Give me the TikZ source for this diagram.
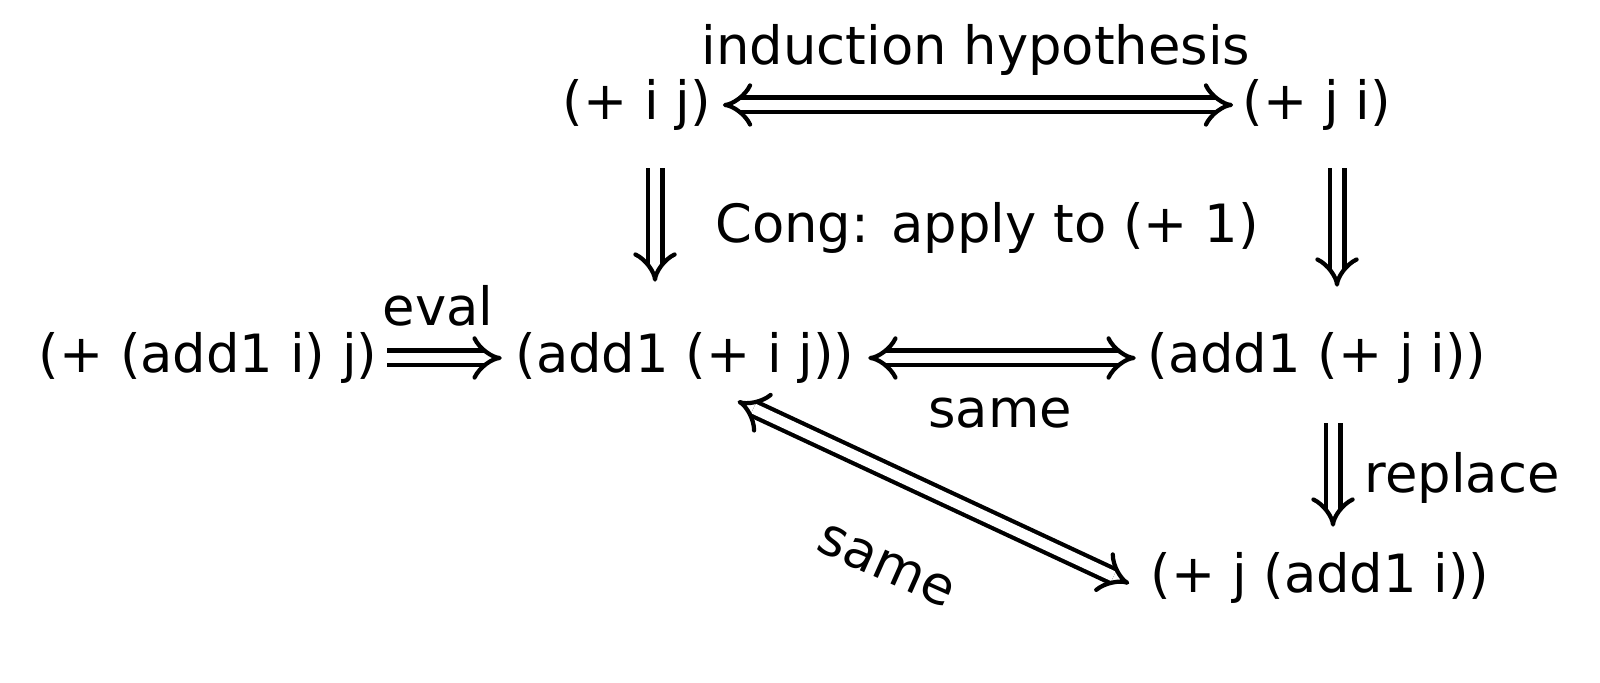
\documentclass[tikz,border=0pt]{standalone}
\usepackage{fontspec}
\setmainfont{DejaVu Sans}
\usetikzlibrary{arrows.meta}
\newcommand{\hand}{\fontsize{15}{18}\selectfont}

\begin{document}
\begin{tikzpicture}[x=0.01cm,y=-0.01cm,
  term/.style={font=\hand, inner sep=2pt},
  imp/.style={double, double distance=3pt, line width=1.2pt, -{Implies}},
  impboth/.style={imp, {Implies}-{Implies}}]

 \useasboundingbox (0,0) rectangle (1600,683);

   \node[term] (ij) at (637,105) {(+ i j)};
   \node[term] (ji) at (1317,105) {(+ j i)};
   \node[term] (hyp) at (976,50) {induction hypothesis};
   \node[term] (cong) at (987,228) {Cong: apply to (+ 1)};
   \node[term] (start) at (208,358) {(+ (add1 i) j)};
   \node[term] (eval) at (438,306) {eval};
   \node[term] (mid) at (685,358) {(add1 (+ i j))};
   \node[term] (right) at (1317,358) {(add1 (+ j i))};
   \node[term] (same) at (1000,413) {same};
   \node[term] (replace) at (1462,478) {replace};
   \node[term] (final) at (1320,578) {(+ j (add1 i))};
   \node[term, rotate=-24] (samediag) at (886,566) {same};

   \draw[impboth, shorten <=0.04cm, shorten >=0.02cm] (ij) -- (ji);
   \draw[imp, shorten <=0.3cm, shorten >=0.43cm] ([shift={(18,0)}]ij.south) -- ([shift={(18,0)}]ij.south |- mid.north);
   \draw[imp, shorten <=0.3cm, shorten >=0.38cm] ([shift={(20,0)}]ji.south) -- ([shift={(20,0)}]ji.south |- right.north);
   \draw[imp, shorten <=0.02cm, shorten >=0.06cm] (start) -- (mid);
   \draw[impboth, shorten <=0.06cm, shorten >=0.04cm] (mid) -- (right);
   \draw[imp, shorten <=0.32cm, shorten >=0.18cm] ([shift={(16,0)}]right.south) -- ([shift={(16,0)}]right.south |- final.north);
   \draw[impboth, shorten <=0.14cm, shorten >=0.15cm] ([shift={(40,4)}]mid.south) -- ([shift={(0,12)}]final.west);

\end{tikzpicture}
\end{document}
